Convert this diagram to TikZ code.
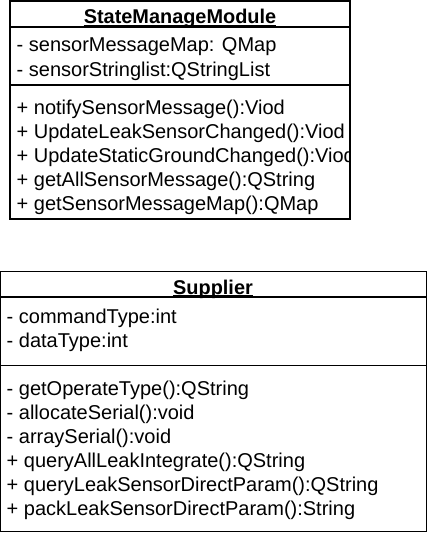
\documentclass[tikz,border=0pt]{standalone}
\usepackage{fontspec}
\setmainfont{Liberation Sans}
\begin{document}
\begin{tikzpicture}[x=1pt,y=-1pt,
  box/.style={draw=black,line width=1.1pt,inner sep=0pt,outer sep=0pt,anchor=north west},
  sep/.style={draw=black,line width=1.1pt},
  member/.style={anchor=base west,inner sep=0pt,font=\fontsize{20}{24}\selectfont},
  ttl/.style={anchor=base,inner sep=0pt,font=\fontsize{19.9}{24}\selectfont\bfseries},
  uline/.style={draw=black,line width=1.3pt}]
\useasboundingbox (0,0) rectangle (428,535);

% ---- StateManageModule ----
\node[box,minimum width=340pt,minimum height=218pt] (smm) at (10,1) {};
\draw[sep] (10,27) -- (350,27);
\draw[sep] (10,85) -- (350,85);
\node[ttl] (smmT) at (180,24) {StateManageModule};
\draw[uline] ([yshift=-1.5pt]smmT.base west) -- ([yshift=-1.5pt]smmT.base east);
\begin{scope}
\clip (10,1) rectangle (349.4,219);
\node[member] (a1) at (16.5,52) {- sensorMessageMap: QMap};
\node[member] (a2) at (16.5,76) {- sensorStringlist:QStringList};
\node[member] (m1) at (16.5,114) {+ notifySensorMessage():Viod};
\node[member] (m2) at (16.5,138) {+ UpdateLeakSensorChanged():Viod};
\node[member] (m3) at (16.5,162) {+ UpdateStaticGroundChanged():Viod};
\node[member] (m4) at (16.5,186) {+ getAllSensorMessage():QString};
\node[member] (m5) at (16.5,210) {+ getSensorMessageMap():QMap};
\end{scope}

% ---- Supplier ----
\node[box,minimum width=426pt,minimum height=260pt] (sup) at (0.6,271.5) {};
\draw[sep] (0.6,297) -- (426.6,297);
\draw[sep] (0.6,365.5) -- (426.6,365.5);
\node[ttl] (supT) at (213,294.3) {Supplier};
\draw[uline] ([yshift=-1.5pt]supT.base west) -- ([yshift=-1.5pt]supT.base east);
\node[member] (b1) at (6.5,323) {- commandType:int};
\node[member] (b2) at (6.5,347) {- dataType:int};
\node[member] (n1) at (6.5,395) {- getOperateType():QString};
\node[member] (n2) at (6.5,419) {- allocateSerial():void};
\node[member] (n3) at (6.5,443) {- arraySerial():void};
\node[member] (n4) at (6.5,467) {+ queryAllLeakIntegrate():QString};
\node[member] (n5) at (6.5,491) {+ queryLeakSensorDirectParam():QString};
\node[member] (n6) at (6.5,515) {+ packLeakSensorDirectParam():String};
\end{tikzpicture}
\end{document}
